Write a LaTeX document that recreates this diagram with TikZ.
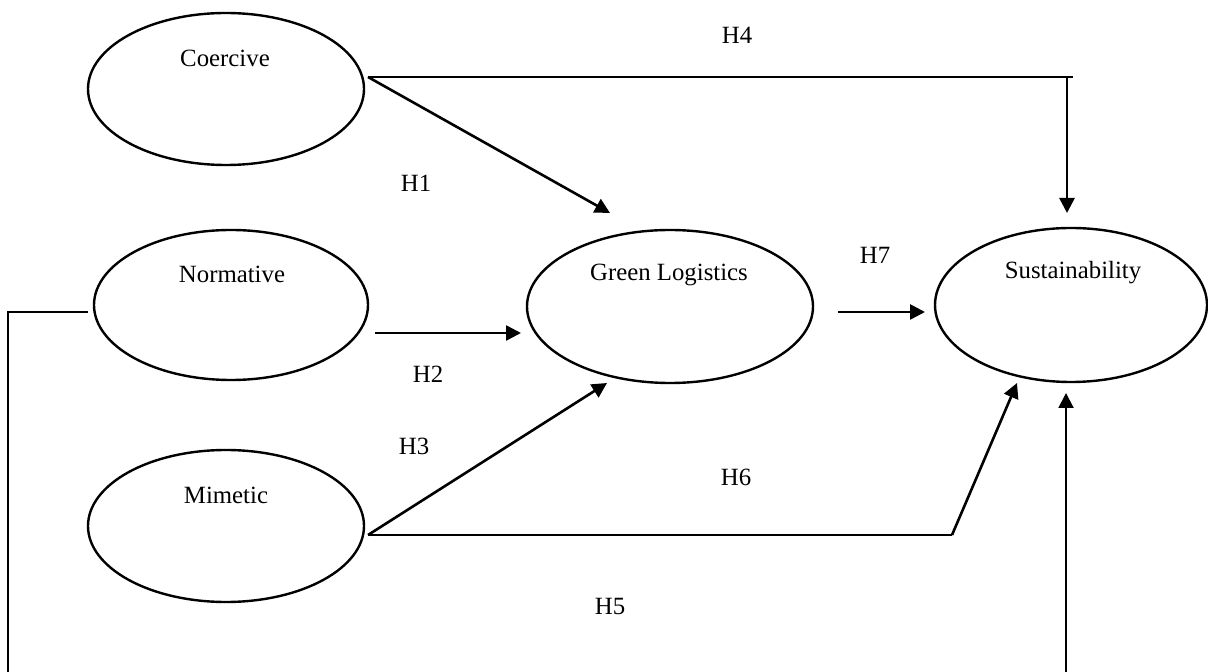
\documentclass[tikz,border=0pt]{standalone}
\usepackage{fontspec}
\setmainfont{Liberation Serif}
\usetikzlibrary{shapes.geometric,arrows.meta}
\begin{document}
\begin{tikzpicture}[x=0.5pt,y=-0.5pt,
  ell/.style={ellipse,draw,line width=1.2pt,inner sep=0pt},
  txt/.style={font=\fontsize{12.4}{14}\selectfont,inner sep=0pt},
  thinline/.style={line width=0.65pt},
  arr/.style={line width=1.3pt,-{Triangle[length=7.5pt,width=7.5pt]}}]
\useasboundingbox (0,0) rectangle (1208,672);
\clip (0,0) rectangle (1208,672);
% constructs
\node[ell,minimum width=138pt,minimum height=76pt] (coe) at (226,89) {};
\node[ell,minimum width=137pt,minimum height=75pt] (nor) at (231,305) {};
\node[ell,minimum width=138pt,minimum height=76pt] (mim) at (226,526) {};
\node[ell,minimum width=143pt,minimum height=76.5pt] (gl) at (670,306.5) {};
\node[ell,minimum width=136pt,minimum height=77pt] (sus) at (1071,305) {};
\node[txt] (coet) at (225,58) {Coercive};
\node[txt] (nort) at (232,274) {Normative};
\node[txt] (mimt) at (226,495) {Mimetic};
\node[txt] (glt) at (669,275) {Green Logistics};
\node[txt] (sust) at (1073,273) {Sustainability};
% connector end points
\coordinate (c1) at (368,77);
\coordinate (h4end) at (1073,77);
\coordinate (h4turn) at (1067,77);
\coordinate (h4tip) at (1067,213);
\coordinate (h1tip) at (610,213);
\coordinate (n1) at (375,333);
\coordinate (h2tip) at (521,333);
\coordinate (g1) at (838,312);
\coordinate (h7tip) at (925,312);
\coordinate (m1) at (368,535);
\coordinate (h3tip) at (607,383);
\coordinate (h6turn) at (952,535);
\coordinate (h6tip) at (1017,383);
\coordinate (n0) at (88,312);
\coordinate (h5a) at (8,312);
\coordinate (h5b) at (8,700);
\coordinate (h5c) at (1066,700);
\coordinate (h5tip) at (1066,393);
% connectors
\draw[thinline] (c1) -- (h4end);
\draw[arr] (h4turn) -- (h4tip);
\draw[arr] (c1) -- (h1tip);
\draw[arr] (n1) -- (h2tip);
\draw[arr] (g1) -- (h7tip);
\draw[arr] (m1) -- (h3tip);
\draw[thinline] (m1) -- (h6turn);
\draw[arr] (h6turn) -- (h6tip);
\draw[thinline] (n0) -- (h5a) -- (h5b) -- (h5c);
\draw[arr,line width=1pt] (h5c) -- (h5tip);
% labels
\node[txt] (l4) at (737,35) {H4};
\node[txt] (l1) at (416,183) {H1};
\node[txt] (l2) at (428,374) {H2};
\node[txt] (l3) at (414,446) {H3};
\node[txt] (l6) at (736,477) {H6};
\node[txt] (l5) at (610,607) {H5};
\node[txt] (l7) at (875,255) {H7};
\end{tikzpicture}
\end{document}
